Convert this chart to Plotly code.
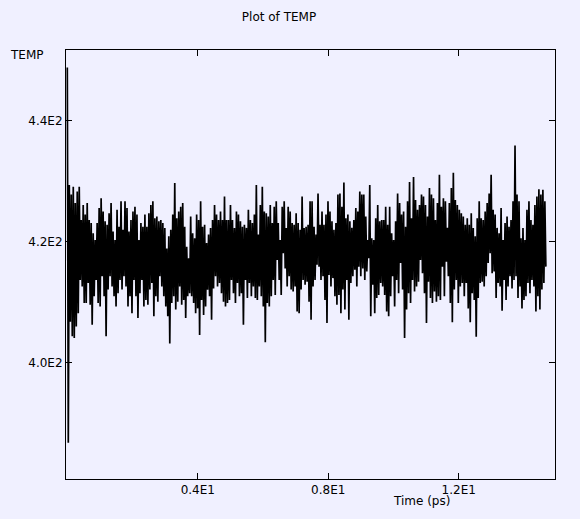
import numpy as np
import plotly.graph_objects as go

# ---- data (temperature, K) ----
start_values = [448.8, 386.8]  # initial spike at t = 0

temp_high = [
    429.4, 427.8, 429.1, 426.4, 428.3, 429.1, 423.6, 426.1, 424.5, 426.4,
    423.6, 423.1, 421.4, 420.3, 423.1, 425.6, 427.2, 425.0, 423.4, 422.8,
    424.7, 426.4, 421.7, 420.3, 425.3, 422.5, 426.7, 422.0, 426.7, 425.6,
    421.7, 423.6, 425.0, 425.8, 424.5, 420.3, 423.1, 422.5, 424.5,
    422.5, 424.7, 426.1, 426.7, 423.9, 424.2, 423.4, 423.6, 423.1, 422.3,
    418.9, 420.9, 422.0, 424.5, 429.7, 423.9, 425.0, 425.8, 426.4, 422.5,
    419.2, 417.3, 424.2, 421.4, 420.6, 424.5, 423.6, 426.7, 422.5, 422.8,
    419.8, 421.2, 422.3, 423.6, 426.1, 424.5, 423.6, 425.0, 423.6, 427.5, 423.6,
    423.6, 426.1, 423.6, 422.3, 425.0, 424.5, 423.4, 422.5, 422.8, 422.3,
    425.3, 423.6, 423.1, 424.5, 429.4, 421.2, 426.1, 429.1, 425.0, 424.7,
    424.2, 426.1, 423.1, 425.8, 426.7, 423.1, 420.3, 425.8, 426.7, 422.3,
    425.8, 425.0, 423.1, 422.8, 424.7, 423.1, 422.0, 427.5, 422.3, 422.5,
    422.8, 426.7, 426.7, 422.5, 421.2, 428.0, 422.8, 425.0, 422.8, 424.5,
    426.7, 425.0, 423.4, 422.0, 423.1, 427.8, 428.0, 425.8, 429.8, 423.9,
    424.5, 423.4, 422.3, 423.6, 425.6, 425.0, 428.3, 427.8, 427.8, 424.2,
    420.3, 429.4, 420.6, 420.3, 423.9, 426.1, 423.4, 423.6, 423.6, 425.8,
    422.8, 425.8, 421.4, 420.3, 423.4, 428.0, 426.4, 424.5, 425.0, 422.5,
    426.7, 429.9, 423.9, 430.7, 426.9, 425.3, 426.1, 427.8, 427.5, 426.1,
    424.2, 428.9, 427.8, 427.2, 423.6, 426.4, 431.1, 425.8, 427.2, 426.7,
    422.3, 426.4, 428.9, 431.4, 426.9, 426.1, 425.3, 424.7, 424.2, 422.8,
    423.9, 422.8, 424.7, 422.3, 420.9, 423.9, 426.7, 423.9, 423.6, 425.0,
    426.4, 428.0, 431.1, 425.3, 424.5, 422.3, 421.4, 425.6, 420.3, 423.1,
    424.2, 422.5, 423.6, 426.7, 435.9, 427.8, 426.7, 420.6, 422.3, 420.3,
    425.3, 426.7, 423.6, 422.8, 426.1, 427.5, 428.7, 427.8, 428.6, 426.7,
]

temp_low = [
    406.8, 404.4, 404.1, 406.0, 408.2, 413.7, 412.6, 409.9, 409.9, 413.2,
    409.6, 406.3, 411.0, 413.7, 409.9, 409.3, 414.3, 411.0, 404.4, 412.1,
    414.3, 412.6, 411.0, 409.3, 411.5, 413.7, 412.1, 414.3, 412.6, 409.3,
    411.0, 408.2, 413.7, 411.0, 407.4, 411.5, 413.7, 409.3, 410.4,
    409.6, 412.1, 413.2, 407.7, 411.0, 410.1, 414.3, 412.6, 411.0, 409.3,
    407.7, 403.2, 409.9, 411.0, 408.8, 410.1, 412.6, 409.6, 410.4, 407.4,
    411.0, 411.5, 411.0, 409.9, 408.2, 409.0, 404.6, 410.4, 407.9, 409.3,
    412.1, 411.0, 407.1, 412.3, 414.3, 412.6, 413.2, 411.5, 410.1, 409.3, 409.9,
    410.4, 413.7, 411.5, 409.9, 413.2, 411.0, 411.5, 406.3, 413.7, 410.7,
    413.2, 411.0, 412.6, 410.7, 410.4, 412.6, 411.0, 409.3, 403.4, 409.9,
    409.3, 411.0, 413.7, 411.2, 417.0, 413.7, 411.2, 418.1, 415.6, 412.6,
    414.3, 412.1, 411.8, 412.6, 408.5, 408.2, 412.1, 413.7, 412.9, 413.4,
    410.1, 407.1, 412.6, 413.7, 416.2, 415.9, 413.7, 414.3, 410.4, 406.6,
    414.5, 412.6, 414.0, 411.0, 409.6, 411.2, 408.2, 412.1, 408.8, 413.7,
    407.1, 413.2, 414.3, 415.4, 412.6, 415.9, 414.3, 415.6, 413.7, 415.1,
    417.3, 407.7, 412.9, 408.2, 410.7, 411.2, 413.2, 412.6, 411.2, 408.5,
    407.7, 411.0, 414.3, 409.3, 413.7, 411.5, 416.5, 412.1, 404.1, 408.8,
    411.5, 409.9, 413.7, 411.8, 412.6, 413.4, 417.0, 414.8, 411.5, 406.6,
    413.4, 410.7, 409.9, 411.8, 410.1, 411.0, 410.4, 415.9, 411.0, 416.7,
    414.3, 409.9, 406.7, 412.1, 413.7, 409.9, 412.6, 413.2, 411.0, 413.2,
    409.0, 406.7, 411.5, 410.4, 404.3, 410.7, 413.2, 413.4, 412.6, 414.3,
    416.5, 418.1, 414.8, 415.1, 410.7, 413.2, 412.6, 408.6, 413.7, 410.4,
    412.6, 414.3, 412.3, 413.7, 414.3, 410.7, 412.6, 409.0, 410.4, 411.0,
    413.2, 411.5, 413.7, 412.6, 408.5, 411.0, 408.8, 412.1, 413.2, 415.9,
]

t_end = 14.67  # ps, last sample
x_tick_vals = [4, 8, 12]
x_tick_text = ["0.4E1", "0.8E1", "1.2E1"]
y_tick_vals = [400, 420, 440]
y_tick_text = ["4.0E2", "4.2E2", "4.4E2"]

# interleave high/low samples into one trace
temp = list(start_values)
for h, l in zip(temp_high, temp_low):
    temp.extend([h, l])
time = np.linspace(0.0, t_end, len(temp))

BG = "rgb(240,240,255)"
FONT = dict(family="DejaVu Sans", size=12, color="black")

fig = go.Figure()
fig.add_trace(go.Scatter(x=time, y=temp, mode="lines",
                         line=dict(color="black", width=1.7),
                         showlegend=False, hoverinfo="skip"))

fig.update_layout(
    width=580, height=519,
    margin=dict(l=66, r=25, t=50, b=40),
    paper_bgcolor=BG, plot_bgcolor=BG,
    font=FONT,
    title=dict(text="Plot of TEMP", x=279 / 580, xanchor="center",
               xref="container", yref="container", y=1 - 17 / 519,
               yanchor="middle", font=FONT),
    xaxis=dict(range=[-0.04, 14.95], tickvals=x_tick_vals, ticktext=x_tick_text,
               ticks="inside", ticklen=6, tickcolor="black", tickwidth=1,
               showline=True, linecolor="black", linewidth=1, mirror="allticks",
               showgrid=False, zeroline=False, tickfont=FONT),
    yaxis=dict(range=[380.8, 451.7], tickvals=y_tick_vals, ticktext=y_tick_text,
               ticks="inside", ticklen=6, tickcolor="black", tickwidth=1,
               showline=True, linecolor="black", linewidth=1, mirror="allticks",
               showgrid=False, zeroline=False, tickfont=FONT),
    annotations=[
        dict(text="TEMP", xref="paper", yref="paper",
             x=(27 - 66) / 489, y=(479 - 55) / 429, showarrow=False,
             xanchor="center", yanchor="middle", font=FONT),
        dict(text="Time (ps)", xref="paper", yref="paper",
             x=(421 - 66) / 489, y=(479 - 501) / 429, showarrow=False,
             xanchor="center", yanchor="middle", font=FONT),
    ],
)

fig.write_html("out.html")
